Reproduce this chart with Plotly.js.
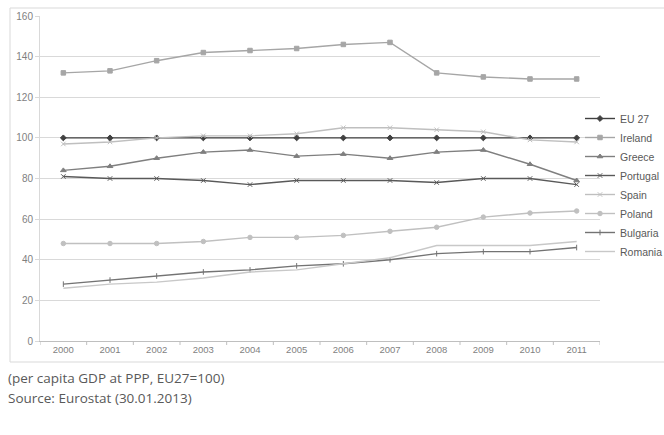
<!DOCTYPE html>
<html><head><meta charset="utf-8">
<script src="https://cdn.plot.ly/plotly-3.0.1.min.js"></script>
<style>html,body{margin:0;padding:0;background:#fff;}#chart{width:664px;height:435px;}</style>
</head><body><div id="chart"></div>
<script>
const years = ['2000','2001','2002','2003','2004','2005','2006','2007','2008','2009','2010','2011'];
const eu27     = [100,100,100,100,100,100,100,100,100,100,100,100];
const ireland  = [132,133,138,142,143,144,146,147,132,130,129,129];
const greece   = [84,86,90,93,94,91,92,90,93,94,87,79];
const portugal = [81,80,80,79,77,79,79,79,78,80,80,77];
const spain    = [97,98,100,101,101,102,105,105,104,103,99,98];
const poland   = [48,48,48,49,51,51,52,54,56,61,63,64];
const bulgaria = [28,30,32,34,35,37,38,40,43,44,44,46];
const romania  = [26,28,29,31,34,35,38,41,47,47,47,49];
const seriesNames = ['EU 27','Ireland','Greece','Portugal','Spain','Poland','Bulgaria','Romania'];
const yTicks = [0,20,40,60,80,100,120,140,160];

const styles = [
  {c:'#404040', s:'diamond', z:4.5},
  {c:'#a6a6a6', s:'square', z:4.5},
  {c:'#7f7f7f', s:'triangle-up', z:5},
  {c:'#595959', s:'x-thin-open', z:4.5},
  {c:'#bfbfbf', s:'x-thin-open', z:4.5},
  {c:'#c0c0c0', s:'circle', z:4.5},
  {c:'#737373', s:'line-ns-open', z:4},
  {c:'#c8c8c8', s:null, z:0}
];
const all = [eu27, ireland, greece, portugal, spain, poland, bulgaria, romania];
const traces = all.map((v,i)=>{
  const st = styles[i];
  const t = {x: years, y: v, name: seriesNames[i], type:'scatter',
    mode: st.s ? 'lines+markers' : 'lines',
    line:{color: st.c, width:1.4}};
  if (st.s) t.marker = {symbol: st.s, size: st.z, color: st.c, line:{color: st.c, width:1}};
  return t;
});

const L=40,R=64,T=16,B=94,W=664,H=435;
const pw=W-L-R, ph=H-T-B;
const px = x => (x-L)/pw;
const py = y => (H-B-y)/ph;
const frame = {color:'#d9d9d9', width:1};

const layout = {
  width:W, height:H,
  margin:{l:L,r:R,t:T,b:B,pad:0,autoexpand:false},
  paper_bgcolor:'#fff', plot_bgcolor:'#fff',
  font:{family:'Liberation Sans, Arial, sans-serif', color:'#7f7f7f', size:10},
  showlegend:true,
  legend:{x:px(580), y:py(185), xanchor:'left', yanchor:'middle', bgcolor:'rgba(0,0,0,0)',
    font:{size:10.5, color:'#595959', family:'Liberation Sans, Arial, sans-serif'},
    itemwidth:30, tracegroupgap:0},
  xaxis:{type:'category', tickvals:years, ticktext:years, showgrid:false, showline:true,
    linecolor:'#bfbfbf', linewidth:1, ticks:'', tickfont:{size:9.5, color:'#7f7f7f'},
    range:[-0.5,11.5], zeroline:false, fixedrange:true},
  yaxis:{range:[0,160], tickvals:yTicks, showgrid:true, gridcolor:'#d9d9d9', gridwidth:1,
    showline:true, linecolor:'#d9d9d9', zeroline:false, ticks:'outside', ticklen:4, tickcolor:'#d9d9d9',
    tickfont:{size:10, color:'#7f7f7f'}, fixedrange:true},
  shapes:[
    {type:'line', xref:'paper', yref:'paper', x0:px(10), x1:px(664), y0:py(8), y1:py(8), line:frame, layer:'below'},
    {type:'line', xref:'paper', yref:'paper', x0:px(10), x1:px(664), y0:py(362), y1:py(362), line:frame, layer:'below'},
    {type:'line', xref:'paper', yref:'paper', x0:px(10), x1:px(10), y0:py(8), y1:py(362), line:frame, layer:'below'}
  ].concat(years.map((y,i)=>({type:'line', xref:'x', yref:'paper', x0:i-0.5, x1:i-0.5,
     y0:0, y1:-4/ph, line:{color:'#bfbfbf', width:1}}))).concat([
     {type:'line', xref:'x', yref:'paper', x0:11.5, x1:11.5, y0:0, y1:-4/ph, line:{color:'#bfbfbf', width:1}}]),
  annotations:[
    {xref:'paper', yref:'paper', x:px(6), y:py(378), xanchor:'left', yanchor:'middle', showarrow:false,
     text:'(per capita GDP at PPP, EU27=100)', font:{family:'Open Sans, sans-serif', size:13.5, color:'#595959'}},
    {xref:'paper', yref:'paper', x:px(6), y:py(398), xanchor:'left', yanchor:'middle', showarrow:false,
     text:'Source: Eurostat (30.01.2013)', font:{family:'Open Sans, sans-serif', size:13.5, color:'#595959'}}
  ]
};
Plotly.newPlot('chart', traces, layout, {displayModeBar:false, staticPlot:true});
</script></body></html>
